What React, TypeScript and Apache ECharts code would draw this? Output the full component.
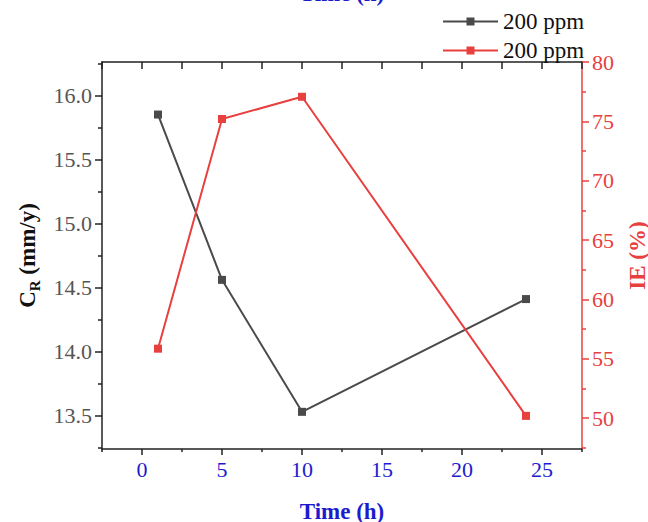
import React, { useEffect, useRef } from "react";
import * as echarts from "echarts";

const timeH = [1, 5, 10, 24];
const crValues = [15.85, 14.56, 13.53, 14.41];
const ieValues = [55.85, 75.2, 77.07, 50.19];
const legendLabels = ["200 ppm", "200 ppm"];
const xMajor = [0, 5, 10, 15, 20, 25];
const xMinor = [-2.5, 2.5, 7.5, 12.5, 17.5, 22.5, 27.5];
const xAll = [-2.5, 0, 2.5, 5, 7.5, 10, 12.5, 15, 17.5, 20, 22.5, 25, 27.5];
const leftMajor = [13.5, 14.0, 14.5, 15.0, 15.5, 16.0];
const leftMinor = [13.25, 13.75, 14.25, 14.75, 15.25, 15.75, 16.25];
const rightMajor = [50, 55, 60, 65, 70, 75, 80];
const rightMinor = [47.5, 52.5, 57.5, 62.5, 67.5, 72.5, 77.5];

const FONT = "Liberation Serif";
const BLUE = "#1c1ccf";
const RED = "#e8403f";
const GRAY = "#4a4a4a";
const BLACK = "#222";

export default function App() {
  const ref = useRef<HTMLDivElement>(null);
  useEffect(() => {
    if (!ref.current) return;
    const chart = echarts.init(ref.current, null, { renderer: "svg" });
    const grid = { left: 102, right: 66, top: 62, bottom: 73, containLabel: false, outerBoundsMode: "none" };
    const xBase = { type: "value", min: -2.5, max: 27.5, splitLine: { show: false } };
    const option: any = {
      animation: false,
      textStyle: { fontFamily: FONT },
      grid,
      legend: {
        left: 437,
        top: 5,
        orient: "vertical",
        itemWidth: 55,
        itemHeight: 10,
        itemGap: 6,
        textStyle: { fontFamily: FONT, fontSize: 23, color: "#111" },
        formatter: (name: string) => (name === "s1" ? legendLabels[0] : legendLabels[1]),
        data: ["s1", "s2"],
      },
      xAxis: [
        {
          ...xBase,
          position: "bottom",
          axisLine: { onZero: false, lineStyle: { color: BLACK, width: 1.5 } },
          axisTick: { customValues: xMajor, length: 6, lineStyle: { color: BLACK, width: 1.5 } },
          axisLabel: { customValues: xMajor, color: BLUE, fontSize: 22, fontFamily: FONT, margin: 9 },
          name: "Time (h)",
          nameLocation: "middle",
          nameGap: 51,
          nameTextStyle: { color: BLUE, fontSize: 23, fontWeight: "bold", fontFamily: FONT },
        },
        {
          ...xBase,
          position: "bottom",
          axisLine: { show: false, onZero: false },
          axisTick: { customValues: xMinor, length: 3, lineStyle: { color: BLACK, width: 1.5 } },
          axisLabel: { show: false },
        },
        {
          ...xBase,
          position: "top",
          axisLine: { onZero: false, lineStyle: { color: BLACK, width: 1.5 } },
          axisTick: { customValues: xAll, inside: true, length: 7, lineStyle: { color: BLACK, width: 1.5 } },
          axisLabel: { show: false },
          name: "Time (h)",
          nameLocation: "middle",
          nameGap: 57,
          nameTextStyle: { color: BLUE, fontSize: 23, fontWeight: "bold", fontFamily: FONT },
        },
      ],
      yAxis: [
        {
          type: "value",
          position: "left",
          min: 13.24,
          max: 16.26,
          splitLine: { show: false },
          axisLine: { show: true, onZero: false, lineStyle: { color: BLACK, width: 1.5 } },
          axisTick: { show: true, customValues: leftMajor, length: 7, lineStyle: { color: BLACK, width: 1.5 } },
          axisLabel: {
            customValues: leftMajor,
            formatter: (v: number) => v.toFixed(1),
            color: "#555",
            fontSize: 22,
            fontFamily: FONT,
            margin: 10,
          },
          name: "{a|C}{b|R}{a| (mm/y)}",
          nameLocation: "middle",
          nameRotate: 90,
          nameGap: 61,
          nameTextStyle: {
            rich: {
              a: { fontSize: 23, fontWeight: "bold", fontFamily: FONT, color: "#111", lineHeight: 26, verticalAlign: "bottom" },
              b: { fontSize: 15, fontWeight: "bold", fontFamily: FONT, color: "#111", lineHeight: 26, verticalAlign: "bottom", padding: [0, 0, -4, 0] },
            },
          },
        },
        {
          type: "value",
          position: "left",
          min: 13.24,
          max: 16.26,
          splitLine: { show: false },
          axisLine: { show: false, onZero: false },
          axisTick: { show: true, customValues: leftMinor, length: 4, lineStyle: { color: BLACK, width: 1.5 } },
          axisLabel: { show: false },
        },
        {
          type: "value",
          position: "right",
          min: 47.4,
          max: 80,
          splitLine: { show: false },
          axisLine: { show: true, onZero: false, lineStyle: { color: RED, width: 1.5 } },
          axisTick: { show: true, customValues: rightMajor, length: 7, lineStyle: { color: RED, width: 1.5 } },
          axisLabel: { customValues: rightMajor, color: RED, fontSize: 22, fontFamily: FONT, margin: 10 },
          name: "IE (%)",
          nameLocation: "middle",
          nameRotate: 90,
          nameGap: 44,
          nameTextStyle: { color: RED, fontSize: 23, fontWeight: "bold", fontFamily: FONT },
        },
        {
          type: "value",
          position: "right",
          min: 47.4,
          max: 80,
          splitLine: { show: false },
          axisLine: { show: false, onZero: false },
          axisTick: { show: true, customValues: rightMinor, length: 4, lineStyle: { color: RED, width: 1.5 } },
          axisLabel: { show: false },
        },
      ],
      series: [
        {
          name: "s1",
          type: "line",
          xAxisIndex: 0,
          yAxisIndex: 0,
          data: timeH.map((t, i) => [t, crValues[i]]),
          symbol: "rect",
          symbolSize: 8,
          itemStyle: { color: GRAY },
          lineStyle: { color: GRAY, width: 2 },
        },
        {
          name: "s2",
          type: "line",
          xAxisIndex: 0,
          yAxisIndex: 2,
          data: timeH.map((t, i) => [t, ieValues[i]]),
          symbol: "rect",
          symbolSize: 8,
          itemStyle: { color: RED },
          lineStyle: { color: RED, width: 2 },
        },
      ],
    };
    chart.setOption(option);
    return () => chart.dispose();
  }, []);
  return (
    <div
      ref={ref}
      style={{ position: "absolute", left: 0, top: 0, width: 648, height: 522, background: "#fff" }}
    />
  );
}
